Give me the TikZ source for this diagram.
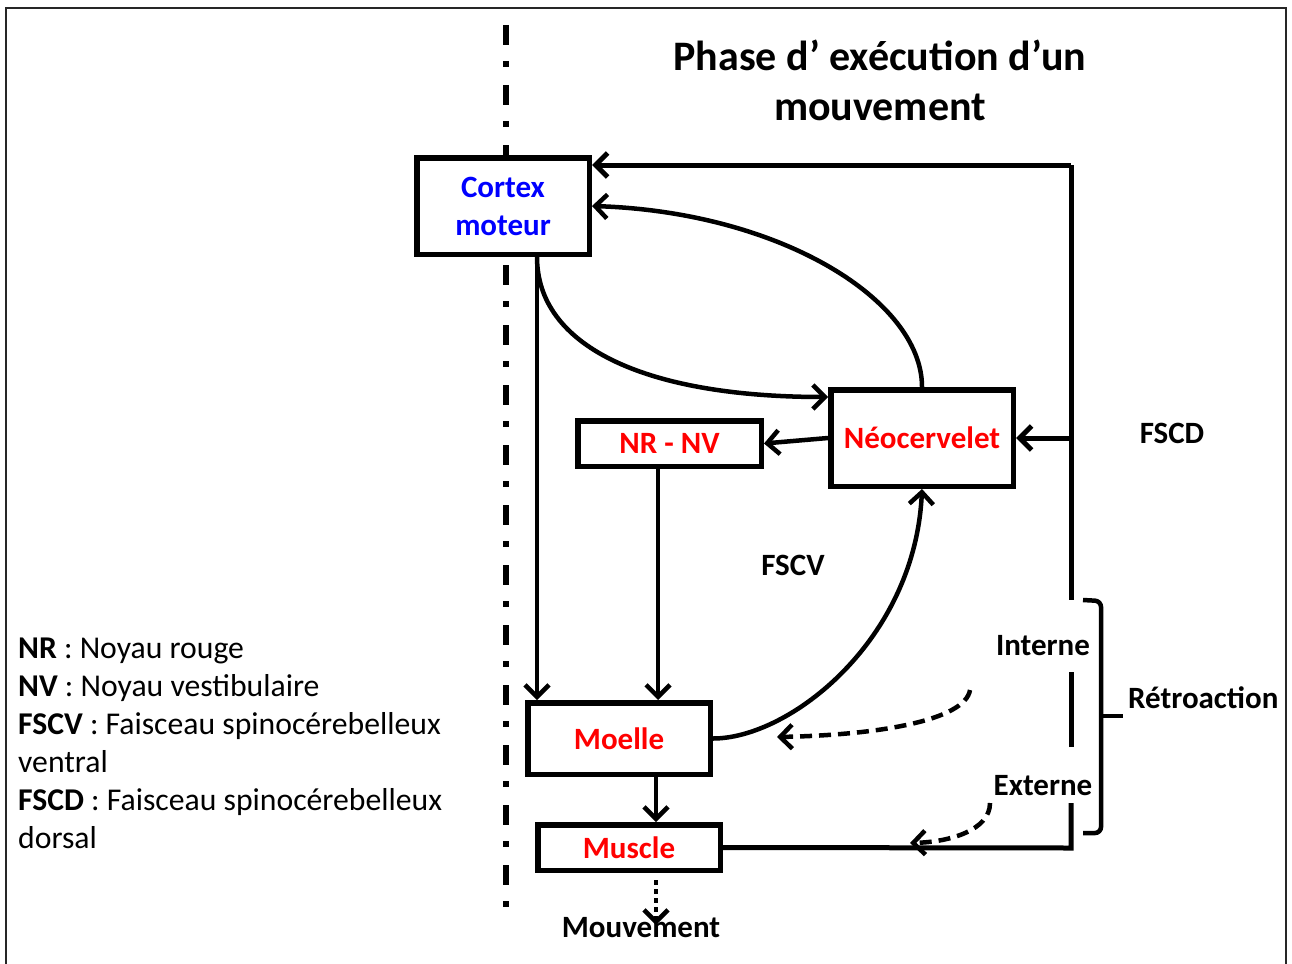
\documentclass[tikz,border=0pt]{standalone}
\usepackage{fontspec}
\setmainfont{Carlito}
\usepackage{xcolor}
\usetikzlibrary{arrows.meta}
\usetikzlibrary{positioning, calc}

\begin{document}
\begin{tikzpicture}[x=1pt, y=-1pt,
    >={Straight Barb[length=12pt,width=24pt]},
    box/.style={draw, line width=5.5pt, fill=white, inner sep=0pt, align=center,
      font=\fontsize{31}{38}\selectfont\bfseries},
    lbl/.style={inner sep=0pt, font=\fontsize{31}{38}\selectfont\bfseries},
    link/.style={line width=4.5pt, ->},
    retour/.style={line width=5pt}]
  \useasboundingbox (0,0) rectangle (1292,963);
  \draw[line width=2pt, black!85] (6,8) rectangle (1286,990);
  % axe median
  \draw[line width=5.5pt, dash pattern=on 20pt off 16pt on 6pt off 18pt] (506,25) -- (506,923);

  \node[lbl, font=\fontsize{42}{50}\selectfont\bfseries, align=center, anchor=base] (titre) at (880,121)
    {Phase d’ exécution d’un\\mouvement};

  % structures
  \node[box, minimum width=172.5pt, minimum height=96.5pt, text=blue] (cortex) at (503,206) {Cortex\\moteur};
  \node[box, minimum width=183.5pt, minimum height=45.5pt, text=red] (nrnv) at (669.5,443.5) {NR - NV};
  \node[box, minimum width=182.5pt, minimum height=96.5pt, text=red] (neo) at (922,438) {Néocervelet};
  \node[box, minimum width=182.5pt, minimum height=71.5pt, text=red] (moelle) at (619,738.5) {Moelle};
  \node[box, minimum width=182.5pt, minimum height=45.5pt, text=red] (muscle) at (629,847.5) {Muscle};

  \node[lbl] (fscd) at (1172,433) {FSCD};
  \node[lbl] (fscv) at (793,565) {FSCV};
  \node[lbl] (interne) at (1043,646) {Interne};
  \node[lbl] (externe) at (1043,786) {Externe};
  \node[lbl, anchor=base west] (retro) at (1128,708) {Rétroaction};
  \node[lbl] (mvt) at (641,928) {Mouvement};

  \node[anchor=base west, align=left, inner sep=0pt, font=\fontsize{31.7}{38}\selectfont] (legende) at (18,848)
    {\textbf{NR} : Noyau rouge\\ \textbf{NV} : Noyau vestibulaire\\
     \textbf{FSCV} : Faisceau spinocérebelleux\\ ventral\\
     \textbf{FSCD} : Faisceau spinocérebelleux\\ dorsal};

  % voies motrices
  \draw[link] ([xshift=34pt]cortex.south) -- ([xshift=-82pt]moelle.north);
  \draw[link] ([xshift=34pt]cortex.south) .. controls +(0,88) and +(-186,0) .. ([yshift=41pt]neo.west);
  \draw[link] (neo.north) .. controls +(0,-87) and +(188,6) .. (cortex.east);
  \draw[link] (neo.west) -- (nrnv.east);
  \draw[link] ([xshift=-11.5pt]nrnv.south) -- ([xshift=39pt]moelle.north);
  \draw[link] (moelle.east) .. controls +(77,0) and +(-7,151) .. (neo.south);
  \draw[link] ([xshift=37pt]moelle.south) -- ([xshift=27pt]muscle.north);
  \draw[link, dash pattern=on 5pt off 4pt] ([xshift=27pt,yshift=-7pt]muscle.south)
    -- ([xshift=15pt,yshift=3pt]mvt.center);

  % FSCD
  \coordinate (ftop) at (1071,165);
  \coordinate (fbot) at (1071,848);
  \draw[retour] (muscle.east) -- (fbot) -- ++(0,-45);
  \draw[retour] (fbot) ++(0,-101) -- ++(0,-75);
  \draw[retour] (ftop) -- ++(0,435);
  \draw[link, retour] (ftop) -- (ftop -| cortex.east);
  \draw[link, retour] (ftop |- neo.east) -- (neo.east);

  % retroaction
  \draw[line width=4.5pt, rounded corners=6pt] (1083,600) -- (1101,601) -- (1101,833) -- (1083,833);
  \draw[line width=4.5pt] (1101,716) -- (1123,716);
  \coordinate (intA) at (970,690);
  \coordinate (intB) at (777,737);
  \draw[link, dash pattern=on 12pt off 7pt] (intA) .. controls +(-5,30) and +(103,-2) .. (intB);
  \coordinate (extA) at (990,803);
  \coordinate (extB) at (910,843);
  \draw[link, dash pattern=on 12pt off 7pt] (extA) .. controls +(0,27) and +(40,-1) .. (extB);
\end{tikzpicture}
\end{document}
